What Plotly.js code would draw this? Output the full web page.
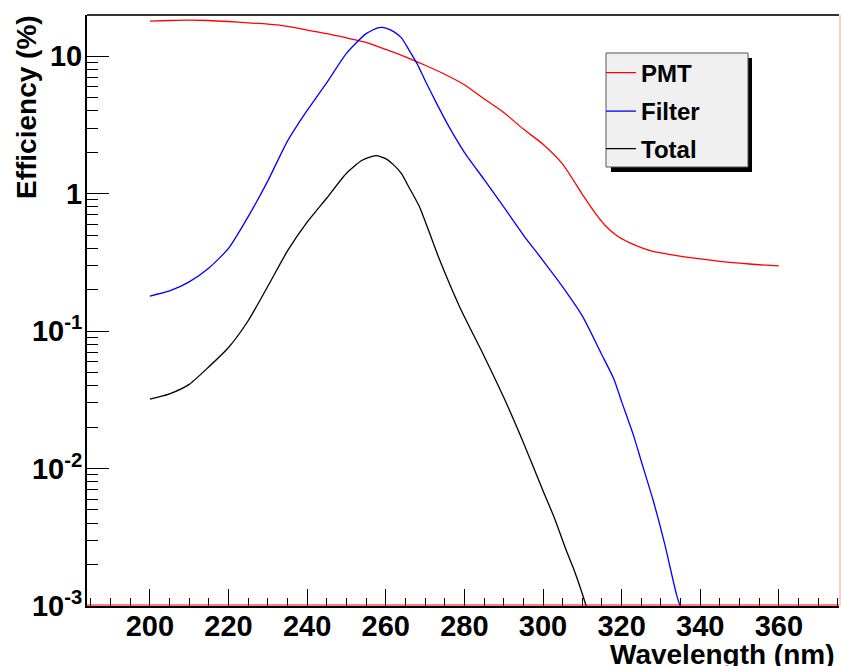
<!DOCTYPE html>
<html>
<head>
<meta charset="utf-8">
<script src="https://cdn.plot.ly/plotly-3.0.1.min.js"></script>
<style>html,body{margin:0;padding:0;background:#fff;}#chart{width:841px;height:666px;}</style>
</head>
<body>
<div id="chart"></div>
<script>
// ---- data ----
const seriesNames = ["PMT", "Filter", "Total"];

const pmtWavelength = [200,205,210,215,220,225,230,235,240,245,250,255,260,265,270,275,280,285,290,295,300,305,310,313,316,319,322,325,328,332,336,340,345,350,355,360];
const pmtEfficiency = [18.0,18.2,18.3,18.2,17.9,17.5,17.1,16.5,15.5,14.6,13.6,12.6,11.2,9.9,8.6,7.4,6.2,4.9,3.9,2.95,2.29,1.64,0.99,0.74,0.58,0.49,0.44,0.405,0.38,0.362,0.347,0.335,0.322,0.312,0.304,0.298];

const filterWavelength = [200,205,210,215,220,225,230,235,240,245,250,255,258,259,260,262,264,266,268,270,273,276,280,285,290,295,300,305,310,315,318,320,323,325,328,331,334,336];
const filterEfficiency = [0.18,0.196,0.228,0.288,0.40,0.68,1.24,2.41,4.03,6.43,10.5,14.6,16.1,16.2,16.0,15.1,13.6,11.0,8.8,6.67,4.5,3.1,2.0,1.27,0.80,0.50,0.326,0.21,0.129,0.067,0.045,0.0307,0.0175,0.0113,0.0059,0.0028,0.0012,0.0008];

const totalWavelength = [200,205,210,215,220,225,230,235,240,245,250,254,257.5,260,262,264,266,268.6,271,273.7,278.8,285,290,295,300,303,306,308,311,312];
const totalEfficiency = [0.032,0.035,0.041,0.055,0.076,0.119,0.212,0.383,0.62,0.93,1.41,1.75,1.89,1.80,1.62,1.40,1.10,0.80,0.53,0.33,0.15,0.066,0.033,0.0155,0.0069,0.0043,0.0025,0.0018,0.0010,0.0008];

const xTitle = "Wavelength (nm)";
const yTitle = "Efficiency (%)";
const yTickVals = [0.001, 0.01, 0.1, 1, 10];
const yTickText = ["10<sup>-3</sup>", "10<sup>-2</sup>", "10<sup>-1</sup>", "1", "10"];

// ---- styling / layout ----
const W = 841, H = 666;
const M = {l: 87, r: 2, t: 15, b: 60};
const pw = W - M.l - M.r, ph = H - M.t - M.b;
const px2x = p => (p - M.l) / pw;
const py2y = p => 1 - (p - M.t) / ph;

const minorY = [];
for (let e = -3; e <= 1; e++) for (let d = 2; d <= 9; d++) minorY.push(d * Math.pow(10, e));

const FONT = "Liberation Sans, Arial, Helvetica, sans-serif";
const TICK_SIZE = 29, TITLE_SIZE = 28;
const colors = ["#ff0000", "#0000ff", "#000000"];
const xs = [pmtWavelength, filterWavelength, totalWavelength];
const ys = [pmtEfficiency, filterEfficiency, totalEfficiency];
const legendIds = ["legend", "legend2", "legend3"];

const traces = seriesNames.map((n, i) => ({
  type: "scatter", mode: "lines", name: n,
  x: xs[i], y: ys[i],
  line: {color: colors[i], width: 1.3, shape: "spline", smoothing: 0.6},
  legend: legendIds[i], hoverinfo: "x+y"
}));

const legendCenters = [73, 111.5, 149];
const legendBase = {
  xanchor: "left", yanchor: "middle",
  bgcolor: "rgba(0,0,0,0)", borderwidth: 0,
  font: {family: FONT, size: 24, weight: 700, color: "#000"},
  itemwidth: 30
};

const layout = {
  width: W, height: H, margin: M,
  paper_bgcolor: "#fff", plot_bgcolor: "#fff",
  font: {family: FONT, size: TICK_SIZE, color: "#000", weight: 700},
  showlegend: true,
  xaxis: {
    range: [184, 375.3], tickmode: "linear", tick0: 0, dtick: 20,
    ticks: "inside", ticklen: 17, tickwidth: 1, tickcolor: "#000",
    showline: true, linecolor: "#000", linewidth: 2,
    showgrid: false, zeroline: false, ticklabelstandoff: -7,
    tickfont: {family: FONT, size: TICK_SIZE, weight: 700, color: "#000"},
    minor: {ticks: "inside", ticklen: 8, tickwidth: 1, tickcolor: "#000", tick0: 0, dtick: 5, showgrid: false}
  },
  yaxis: {
    type: "log", range: [-3, 1.3],
    tickmode: "array", tickvals: yTickVals, ticktext: yTickText,
    ticks: "inside", ticklen: 22, tickwidth: 1, tickcolor: "#000",
    showline: true, linecolor: "#000", linewidth: 2,
    showgrid: false, zeroline: false, ticklabelstandoff: -3,
    tickfont: {family: FONT, size: TICK_SIZE, weight: 700, color: "#000"},
    minor: {tickmode: "array", tickvals: minorY, ticks: "inside", ticklen: 11, tickwidth: 1, tickcolor: "#000", showgrid: false}
  },
  annotations: [
    {text: xTitle, xref: "paper", yref: "paper", x: px2x(837), xanchor: "right",
     y: py2y(654), yanchor: "middle", showarrow: false,
     font: {family: FONT, size: TITLE_SIZE, weight: 700, color: "#000"}},
    {text: yTitle, xref: "paper", yref: "paper", x: px2x(26), xanchor: "center",
     y: py2y(13), yanchor: "top", textangle: -90, showarrow: false,
     font: {family: FONT, size: TITLE_SIZE, weight: 700, color: "#000"}}
  ],
  shapes: [
    {type: "line", xref: "paper", yref: "paper", x0: 0, x1: 1, y0: 1, y1: 1, line: {color: "#333", width: 2}},
    {type: "line", xref: "paper", yref: "paper", x0: px2x(840), x1: px2x(840), y0: 0, y1: 1, line: {color: "#ff9a9a", width: 1}},
    {type: "line", xref: "paper", yref: "paper", x0: 0, x1: 1, y0: py2y(605), y1: py2y(605), line: {color: "#ff0000", width: 1}},
    {type: "rect", xref: "paper", yref: "paper", x0: px2x(611), x1: px2x(752), y0: py2y(58), y1: py2y(172), fillcolor: "#000", line: {width: 0}},
    {type: "rect", xref: "paper", yref: "paper", x0: px2x(606), x1: px2x(748), y0: py2y(53), y1: py2y(167), fillcolor: "#f0f0f0", line: {color: "#555", width: 1}}
  ]
};
legendIds.forEach((id, i) => {
  layout[id] = Object.assign({}, legendBase, {x: px2x(601), y: py2y(legendCenters[i])});
});

Plotly.newPlot("chart", traces, layout, {displayModeBar: false, staticPlot: true});
</script>
</body>
</html>
